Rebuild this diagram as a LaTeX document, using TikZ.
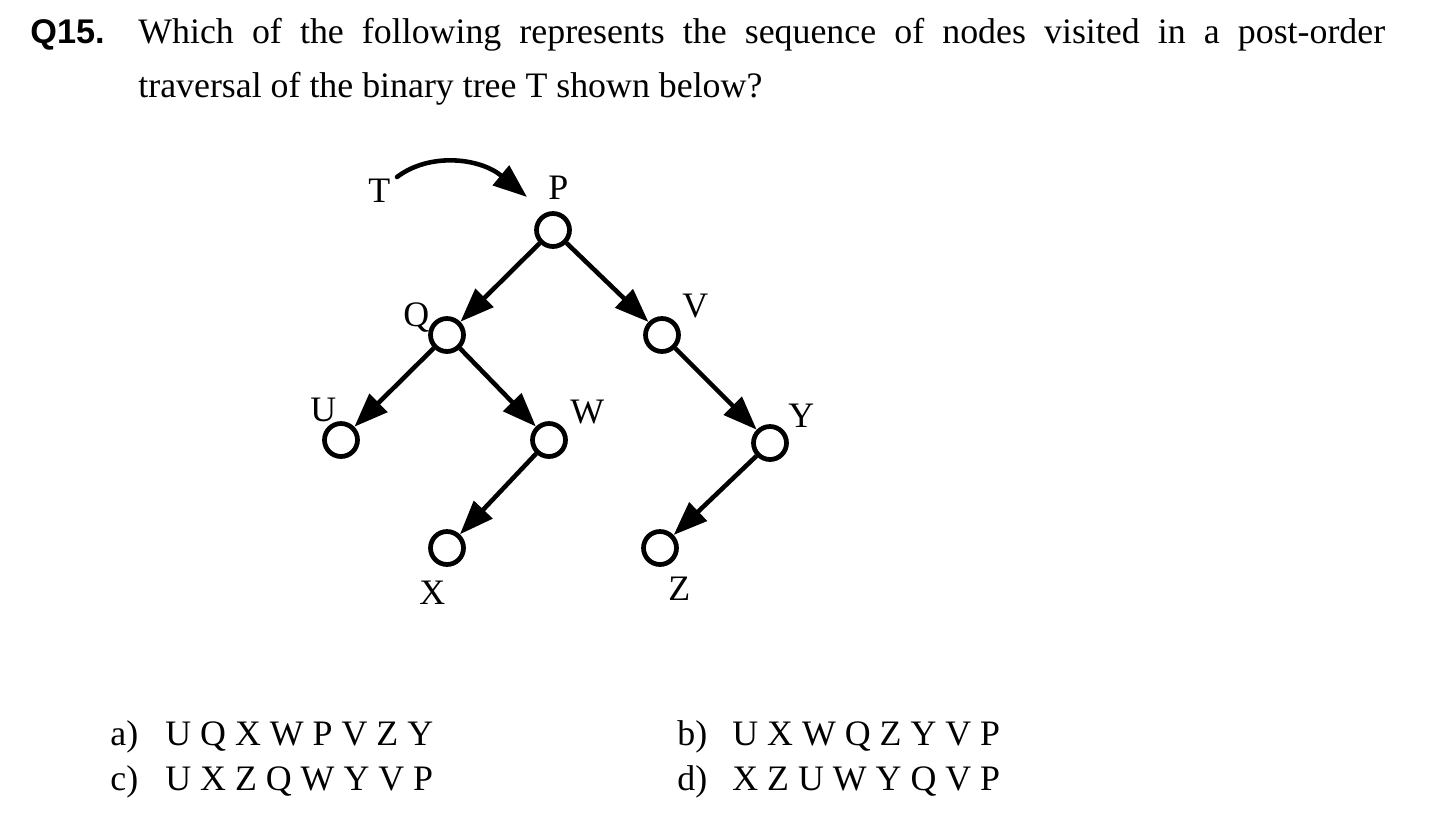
\documentclass[tikz,border=0pt]{standalone}
\usepackage{fontspec}
\setmainfont{Liberation Serif}
\newfontfamily\qfont{Liberation Sans}
\usetikzlibrary{arrows.meta,positioning}

\begin{document}
\begin{tikzpicture}[x=0.02cm,y=-0.02cm,
  tnode/.style={circle,draw,line width=2.7pt,inner sep=0pt,minimum size=0.66cm},
  tlabel/.style={anchor=base west,inner sep=0pt,font=\fontsize{20.4}{30}\selectfont},
  edge/.style={line width=2.6pt,-{Triangle[length=0.68cm,width=0.5cm]}}
]
\useasboundingbox (0,0) rectangle (1449,839);

% the question
\node[tlabel,font=\qfont\bfseries\fontsize{19.5}{30}\selectfont] (qnum) at (30,43) {Q15.};
\node[tlabel] (qline1) at (138,43) {\makebox[24.94cm][s]{Which of the following represents the sequence of nodes visited in a post-order}};
\node[tlabel] (qline2) at (138,97) {traversal of the binary tree T shown below?};

% the vertices of the tree
\foreach \n/\xcoord/\ycoord in {P/553/230,Q/447/335,V/662/335,U/341/440,W/549/440,Y/770/443,X/447/548,Z/660/548}
  \node[tnode] (\n) at (\xcoord,\ycoord) {};

% the labels
\foreach \n/\xcoord/\ycoord in {P/548/199,Q/403/326,V/682/317,U/310/421,W/570/423,Y/788/427,X/419/604,Z/668/600}
  \node[tlabel] (l\n) at (\xcoord,\ycoord) {\n};
\node[tlabel] (lT) at (368,202) {T};

% the pointer T
\coordinate (tstart) at (397,177);
\coordinate (tend) at (527,197);
\draw[edge,line cap=round] (tstart) .. controls (430,152) and (480,158) .. (tend);

% the edges
\draw[edge] (P) -- (Q);
\draw[edge] (P) -- (V);
\draw[edge] (Q) -- (U);
\draw[edge] (Q) -- (W);
\draw[edge] (W) -- (X);
\draw[edge] (V) -- (Y);
\draw[edge] (Y) -- (Z);

% the answers
\node[tlabel] (ka) at (110,745) {a)};
\node[tlabel] (aa) at (165,745) {U Q X W P V Z Y};
\node[tlabel] (kb) at (677,745) {b)};
\node[tlabel] (ab) at (732,745) {U X W Q Z Y V P};
\node[tlabel] (kc) at (110,790) {c)};
\node[tlabel] (ac) at (165,790) {U X Z Q W Y V P};
\node[tlabel] (kd) at (677,790) {d)};
\node[tlabel] (ad) at (732,790) {X Z U W Y Q V P};
\end{tikzpicture}
\end{document}
